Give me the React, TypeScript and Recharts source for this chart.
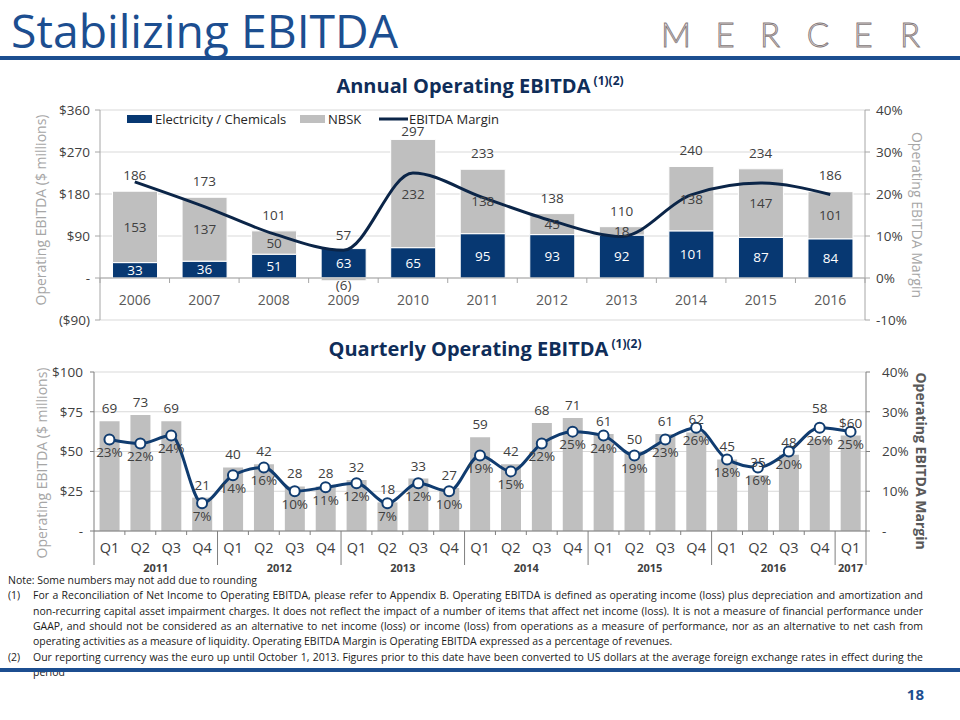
import React from 'react'
import {
  ComposedChart,
  Bar,
  Line,
  XAxis,
  YAxis,
  CartesianGrid,
  LabelList,
  ReferenceLine
} from 'recharts'

// ---- annual data ----
const years = ['2006', '2007', '2008', '2009', '2010', '2011', '2012', '2013', '2014', '2015', '2016']
const elecChem = [33, 36, 51, 63, 65, 95, 93, 92, 101, 87, 84]
const nbsk = [153, 137, 50, -6, 232, 138, 45, 18, 138, 147, 101]
const annualTotal = [186, 173, 101, 57, 297, 233, 138, 110, 240, 234, 186]
const annualMargin = [22.9, 17.0, 10.5, 6.6, 25.0, 19.2, 13.6, 9.9, 19.8, 22.6, 19.9]
const annualLeftTicks = [-90, 0, 90, 180, 270, 360]
const annualRightTicks = [-10, 0, 10, 20, 30, 40]

// ---- quarterly data ----
const quarterLabels = [
  'Q1', 'Q2', 'Q3', 'Q4', 'Q1', 'Q2', 'Q3', 'Q4', 'Q1', 'Q2', 'Q3', 'Q4',
  'Q1', 'Q2', 'Q3', 'Q4', 'Q1', 'Q2', 'Q3', 'Q4', 'Q1', 'Q2', 'Q3', 'Q4', 'Q1'
]
const quarterYears = [
  '2011', '2011', '2011', '2011', '2012', '2012', '2012', '2012', '2013', '2013', '2013', '2013',
  '2014', '2014', '2014', '2014', '2015', '2015', '2015', '2015', '2016', '2016', '2016', '2016', '2017'
]
const quarterlyEbitda = [69, 73, 69, 21, 40, 42, 28, 28, 32, 18, 33, 27, 59, 42, 68, 71, 61, 50, 61, 62, 45, 35, 48, 58, 60]
const quarterlyMargin = [23, 22, 24, 7, 14, 16, 10, 11, 12, 7, 12, 10, 19, 15, 22, 25, 24, 19, 23, 26, 18, 16, 20, 26, 25]
const quarterLeftTicks = [0, 25, 50, 75, 100]
const quarterRightTicks = [0, 10, 20, 30, 40]

const NAVY = '#073872'
const LINE_NAVY = '#0b2548'
const Q_LINE = '#103c70'
const GREY_BAR = '#bfbfbf'
const BLUE = '#1c4e90'
const TITLE_NAVY = '#0f2d59'
const AXIS = '#a6a6a6'
const GRID = '#d9d9d9'
const TEXT = '#404040'
const FONT = '"Open Sans", sans-serif'

const annualData = years.map((year, i) => ({
  year,
  elec: elecChem[i],
  nbsk: nbsk[i],
  total: annualTotal[i],
  margin: annualMargin[i]
}))

const quarterData = quarterLabels.map((q, i) => ({
  id: `${quarterYears[i]}-${q}`,
  ebitda: quarterlyEbitda[i],
  margin: quarterlyMargin[i],
  label: i === quarterLabels.length - 1 ? `$${quarterlyEbitda[i]}` : `${quarterlyEbitda[i]}`
}))

// plot geometry
const A_PLOT_W = 765
const A_PLOT_H = 210
const A_BAND = A_PLOT_W / years.length
const Q_TOP = 17
const Q_PLOT_H = 159
const Q_PLOT_W = 772
const Q_BAND = Q_PLOT_W / quarterLabels.length

const money = (v: number) => (v === 0 ? '-' : v < 0 ? `($${-v})` : `$${v}`)

function AnnualTick({ x, y, payload }: any) {
  // axis sits at the bottom (-90); labels hang from the zero line
  const zeroY = y - A_PLOT_H * (90 / 450)
  const half = A_BAND / 2
  const last = payload.index === years.length - 1
  return (
    <g>
      <line x1={x - half} x2={x - half} y1={zeroY} y2={zeroY + 5} stroke={AXIS} />
      {last && <line x1={x + half} x2={x + half} y1={zeroY} y2={zeroY + 5} stroke={AXIS} />}
      <text x={x} y={zeroY + 21} textAnchor="middle" dominantBaseline="central" fill="#595959" fontSize={14} fontFamily={FONT}>
        {years[payload.index]}
      </text>
    </g>
  )
}

function QuarterTick({ x, y, payload }: any) {
  const i = payload.index
  const half = Q_BAND / 2
  const yr = quarterYears[i]
  const firstIdx = quarterYears.indexOf(yr)
  const count = quarterYears.filter((v) => v === yr).length
  const isFirst = i === firstIdx
  const isLast = i === quarterLabels.length - 1
  return (
    <g>
      {isFirst ? (
        <line x1={x - half} x2={x - half} y1={y} y2={y + 34} stroke="#7f7f7f" />
      ) : (
        <line x1={x - half} x2={x - half} y1={y} y2={y + 4} stroke="#7f7f7f" />
      )}
      {isLast && <line x1={x + half} x2={x + half} y1={y} y2={y + 34} stroke="#7f7f7f" />}
      <text x={x} y={y + 16} textAnchor="middle" dominantBaseline="central" fill={TEXT} fontSize={14.5} fontFamily={FONT}>
        {quarterLabels[i]}
      </text>
      {isFirst && (
        <text x={x + (count - 1) * half} y={y + 36} textAnchor="middle" dominantBaseline="central" fill={TEXT} fontSize={11} fontWeight={700} fontFamily={FONT}>
          {yr}
        </text>
      )}
    </g>
  )
}

function NbskLabel(props: any) {
  const { x, y, width, height, value } = props
  const cx = x + width / 2
  if (value < 0) {
    const bottom = Math.max(y, y + height)
    return (
      <text x={cx} y={bottom + 4} textAnchor="middle" dominantBaseline="central" fill={TEXT} fontSize={13.5} fontFamily={FONT}>
        ({-value})
      </text>
    )
  }
  return (
    <text x={cx} y={y + height / 2} textAnchor="middle" dominantBaseline="central" fill={TEXT} fontSize={13.5} fontFamily={FONT}>
      {value}
    </text>
  )
}

function TotalLabel(props: any) {
  const { x, y, value } = props
  // keep clear of the legend row at the top of the plot
  const cy = Math.max(y - 16, 36)
  return (
    <text x={x} y={cy} textAnchor="middle" dominantBaseline="central" fill={TEXT} fontSize={13.5} fontFamily={FONT}>
      {value}
    </text>
  )
}

function QuarterBarLabel(props: any) {
  const { x, y, width, value, index } = props
  let cy = y - 13
  // lift the label above the margin marker when they sit on top of each other
  const pointY = Q_TOP + Q_PLOT_H * (1 - quarterlyMargin[index] / 40)
  if (Math.abs(cy - pointY) < 5) cy = pointY - 20
  return (
    <text x={x + width / 2} y={cy} textAnchor="middle" dominantBaseline="central" fill={TEXT} fontSize={13.5} fontFamily={FONT}>
      {value}
    </text>
  )
}

function AnnualChart() {
  return (
    <ComposedChart
      width={960}
      height={245}
      data={annualData}
      stackOffset="sign"
      barCategoryGap="18%"
      margin={{ top: 15, right: 35, left: 40, bottom: 5 }}
      style={{ fontFamily: FONT }}
    >
      <CartesianGrid vertical={false} stroke={GRID} yAxisId="left" />
      <XAxis dataKey="year" height={15} axisLine={false} tickLine={false} tickSize={0} tickMargin={0} tick={<AnnualTick />} interval={0} />
      <YAxis
        yAxisId="left"
        width={60}
        domain={[-90, 360]}
        ticks={annualLeftTicks}
        tickFormatter={money}
        tick={{ fill: TEXT, fontSize: 13.5 }}
        axisLine={{ stroke: AXIS }}
        tickLine={{ stroke: AXIS }}
        tickSize={5}
        tickMargin={5}
      />
      <YAxis
        yAxisId="right"
        orientation="right"
        width={60}
        domain={[-10, 40]}
        ticks={annualRightTicks}
        tickFormatter={(v: number) => `${v}%`}
        tick={{ fill: TEXT, fontSize: 13.5 }}
        axisLine={{ stroke: AXIS }}
        tickLine={{ stroke: AXIS }}
        tickSize={5}
        tickMargin={6}
      />
      <ReferenceLine yAxisId="left" y={0} stroke={AXIS} />
      <Bar yAxisId="left" dataKey="elec" stackId="a" fill={NAVY} stroke="#ffffff" strokeWidth={1} isAnimationActive={false}>
        <LabelList dataKey="elec" position="center" fill="#ffffff" fontSize={13.5} fontFamily={FONT} />
      </Bar>
      <Bar yAxisId="left" dataKey="nbsk" stackId="a" fill={GREY_BAR} stroke="#ffffff" strokeWidth={1} isAnimationActive={false}>
        <LabelList dataKey="nbsk" content={<NbskLabel />} />
      </Bar>
      <Line yAxisId="left" dataKey="total" stroke="none" dot={false} activeDot={false} legendType="none" isAnimationActive={false}>
        <LabelList dataKey="total" content={<TotalLabel />} />
      </Line>
      <Line yAxisId="right" type="monotone" dataKey="margin" stroke={LINE_NAVY} strokeWidth={3} dot={false} activeDot={false} isAnimationActive={false} />
    </ComposedChart>
  )
}

function QuarterlyChart() {
  return (
    <ComposedChart
      width={960}
      height={221}
      data={quarterData}
      barCategoryGap="18%"
      margin={{ top: Q_TOP, right: 34, left: 34, bottom: 0 }}
      style={{ fontFamily: FONT }}
    >
      <CartesianGrid vertical={false} stroke={GRID} yAxisId="left" />
      <XAxis dataKey="id" height={45} axisLine={{ stroke: '#7f7f7f' }} tickLine={false} tickSize={0} tickMargin={0} tick={<QuarterTick />} interval={0} />
      <YAxis
        yAxisId="left"
        width={60}
        domain={[0, 100]}
        ticks={quarterLeftTicks}
        tickFormatter={money}
        tick={{ fill: TEXT, fontSize: 13.5 }}
        axisLine={{ stroke: '#7f7f7f' }}
        tickLine={{ stroke: '#7f7f7f' }}
        tickSize={4}
        tickMargin={7}
      />
      <YAxis
        yAxisId="right"
        orientation="right"
        width={60}
        domain={[0, 40]}
        ticks={quarterRightTicks}
        tickFormatter={(v: number) => (v === 0 ? '-' : `${v}%`)}
        tick={{ fill: TEXT, fontSize: 13.5 }}
        axisLine={{ stroke: '#7f7f7f' }}
        tickLine={{ stroke: '#7f7f7f' }}
        tickSize={4}
        tickMargin={12}
      />
      <Bar yAxisId="left" dataKey="ebitda" fill={GREY_BAR} isAnimationActive={false}>
        <LabelList dataKey="label" content={<QuarterBarLabel />} />
      </Bar>
      <Line
        yAxisId="right"
        type="monotone"
        dataKey="margin"
        stroke={Q_LINE}
        strokeWidth={3}
        dot={{ r: 5, fill: '#ffffff', stroke: Q_LINE, strokeWidth: 2 }}
        activeDot={false}
        isAnimationActive={false}
      >
        <LabelList dataKey="margin" position="bottom" offset={8} formatter={(v: any) => `${v}%`} fill={TEXT} fontSize={13.5} fontFamily={FONT} />
      </Line>
    </ComposedChart>
  )
}

const mercerLetters = ['M', 'E', 'R', 'C', 'E', 'R']
const mercerX = [676, 725, 770, 818, 863, 910]

const legendItems = [
  { name: 'Electricity / Chemicals', kind: 'rect', color: NAVY, x: 127 },
  { name: 'NBSK', kind: 'rect', color: GREY_BAR, x: 300 },
  { name: 'EBITDA Margin', kind: 'line', color: LINE_NAVY, x: 379 }
]

const NOTE_SCALE = 0.91
const noteLine: React.CSSProperties = {
  position: 'absolute',
  left: 33,
  width: 890 / NOTE_SCALE,
  whiteSpace: 'nowrap',
  textAlign: 'justify',
  textAlignLast: 'justify',
  transform: `scaleX(${NOTE_SCALE})`,
  transformOrigin: '0 0'
}
const noteLeft: React.CSSProperties = {
  position: 'absolute',
  whiteSpace: 'nowrap',
  transform: `scaleX(${NOTE_SCALE})`,
  transformOrigin: '0 0'
}

export default function App() {
  return (
    <div style={{ position: 'absolute', left: 0, top: 0, width: 960, height: 720, background: '#fff', fontFamily: FONT, overflow: 'hidden' }}>
      <svg width={960} height={720} style={{ position: 'absolute', left: 0, top: 0 }}>
        <text x={11} y={48} fontSize={45} fill={BLUE} fontFamily={FONT} textLength={387} lengthAdjust="spacingAndGlyphs">
          Stabilizing EBITDA
        </text>
        {mercerLetters.map((l, i) => (
          <text key={i} x={mercerX[i]} y={47} textAnchor="middle" fontSize={33} fontWeight={300} fill="#ece6e6" stroke="#857a7b" strokeWidth={0.9} fontFamily="Lato, sans-serif">
            {l}
          </text>
        ))}
        <rect x={0} y={56} width={960} height={4} fill={BLUE} />
        <text x={924} y={700} textAnchor="end" fontSize={15} fontWeight={700} fill={BLUE} fontFamily={FONT}>18</text>

        <text x={480} y={93} textAnchor="middle" fontFamily={FONT} fontWeight={700} fill={TITLE_NAVY} fontSize={20}>
          Annual Operating EBITDA<tspan fontSize={12} dy={-8}> (1)(2)</tspan>
        </text>
        <text x={485} y={356} textAnchor="middle" fontFamily={FONT} fontWeight={700} fill={TITLE_NAVY} fontSize={20}>
          Quarterly Operating EBITDA<tspan fontSize={12} dy={-8}> (1)(2)</tspan>
        </text>

        <text transform="translate(40,210) rotate(-90)" textAnchor="middle" dominantBaseline="central" fontSize={14} fill={AXIS} fontFamily={FONT}>
          Operating EBITDA ($ millions)
        </text>
        <text transform="translate(917,215) rotate(90)" textAnchor="middle" dominantBaseline="central" fontSize={14} fill={AXIS} fontFamily={FONT}>
          Operating EBITDA Margin
        </text>
        <text transform="translate(41,463) rotate(-90)" textAnchor="middle" dominantBaseline="central" fontSize={14} fill={AXIS} fontFamily={FONT}>
          Operating EBITDA ($ millions)
        </text>
        <text transform="translate(921,461) rotate(90)" textAnchor="middle" dominantBaseline="central" fontSize={14} fontWeight={700} fill="#595959" fontFamily={FONT}>
          Operating EBITDA Margin
        </text>
      </svg>

      <div style={{ position: 'absolute', left: 0, top: 95 }}>
        <AnnualChart />
      </div>
      <svg width={520} height={20} style={{ position: 'absolute', left: 0, top: 109 }}>
        {legendItems.map((it) => (
          <g key={it.name}>
            {it.kind === 'rect' ? (
              <rect x={it.x} y={6} width={25} height={8} fill={it.color} />
            ) : (
              <rect x={it.x} y={8.5} width={29} height={3} fill={it.color} />
            )}
            <text x={it.x + (it.kind === 'rect' ? 28 : 30)} y={10} dominantBaseline="central" fontSize={13} fill="#262626" fontFamily={FONT}>
              {it.name}
            </text>
          </g>
        ))}
      </svg>

      <div style={{ position: 'absolute', left: 0, top: 355 }}>
        <QuarterlyChart />
      </div>

      <div style={{ position: 'absolute', left: 0, top: 572, width: 960, height: 110, fontSize: 11.5, lineHeight: '15.3px', color: '#1a1a1a' }}>
        <div style={{ ...noteLeft, left: 8, top: 0 }}>Note: Some numbers may not add due to rounding</div>
        <div style={{ ...noteLeft, left: 8, top: 15.3 }}>(1)</div>
        <div style={{ ...noteLine, top: 15.3 }}>For a Reconciliation of Net Income to Operating EBITDA, please refer to Appendix B. Operating EBITDA is defined as operating income (loss) plus depreciation and amortization and</div>
        <div style={{ ...noteLine, top: 30.6 }}>non-recurring capital asset impairment charges. It does not reflect the impact of a number of items that affect net income (loss). It is not a measure of financial performance under</div>
        <div style={{ ...noteLine, top: 45.9 }}>GAAP, and should not be considered as an alternative to net income (loss) or income (loss) from operations as a measure of performance, nor as an alternative to net cash from</div>
        <div style={{ ...noteLeft, left: 33, top: 61.2 }}>operating activities as a measure of liquidity. Operating EBITDA Margin is Operating EBITDA expressed as a percentage of revenues.</div>
        <div style={{ ...noteLeft, left: 8, top: 76.5 }}>(2)</div>
        <div style={{ ...noteLine, top: 76.5 }}>Our reporting currency was the euro up until October 1, 2013. Figures prior to this date have been converted to US dollars at the average foreign exchange rates in effect during the</div>
        <div style={{ ...noteLeft, left: 33, top: 91.8 }}>period</div>
      </div>
      <svg width={960} height={6} style={{ position: 'absolute', left: 0, top: 668 }}>
        <rect x={0} y={0} width={960} height={4} fill={BLUE} />
      </svg>
    </div>
  )
}
